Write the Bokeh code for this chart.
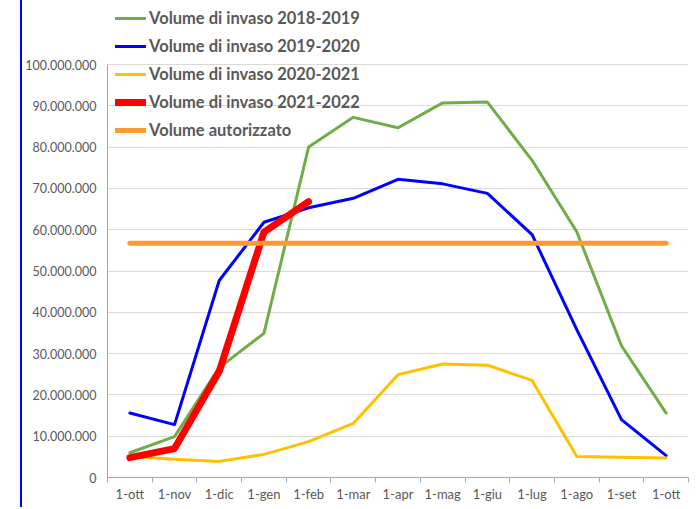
from bokeh.plotting import figure
from bokeh.models import (Legend, LegendItem, FixedTicker, CustomJSTickFormatter, Spacer)
from bokeh.layouts import row
from bokeh.embed import file_html
from bokeh.resources import INLINE

months = ["1-ott", "1-nov", "1-dic", "1-gen", "1-feb", "1-mar", "1-apr",
          "1-mag", "1-giu", "1-lug", "1-ago", "1-set", "1-ott"]

vol_2018_2019 = [6.0e6, 9.9e6, 26.6e6, 34.9e6, 80.0e6, 87.2e6, 84.7e6,
                 90.7e6, 90.9e6, 76.8e6, 59.5e6, 31.9e6, 15.6e6]
vol_2019_2020 = [15.6e6, 12.8e6, 47.7e6, 61.8e6, 65.3e6, 67.6e6, 72.2e6,
                 71.1e6, 68.8e6, 58.8e6, 35.8e6, 14.0e6, 5.3e6]
vol_2020_2021 = [5.1e6, 4.4e6, 3.9e6, 5.6e6, 8.7e6, 13.1e6, 24.9e6,
                 27.5e6, 27.2e6, 23.5e6, 5.1e6, 4.9e6, 4.7e6]
vol_2021_2022 = [4.8e6, 7.0e6, 25.7e6, 59.4e6, 66.8e6]
vol_autorizzato = [56.7e6, 56.7e6, 56.7e6, 56.7e6, 56.7e6, 56.7e6, 56.7e6,
                   56.7e6, 56.7e6, 56.7e6, 56.7e6, 56.7e6, 56.7e6]

y_ticks = [0, 10e6, 20e6, 30e6, 40e6, 50e6, 60e6, 70e6, 80e6, 90e6, 100e6]
y_max = 100e6

series = [
    ("Volume di invaso 2018-2019", vol_2018_2019, "#70AD47", 3),
    ("Volume di invaso 2019-2020", vol_2019_2020, "#0000FF", 3),
    ("Volume di invaso 2020-2021", vol_2020_2021, "#FFC000", 3),
    ("Volume di invaso 2021-2022", vol_2021_2022, "#FF0000", 7),
    ("Volume autorizzato", vol_autorizzato, "#FF9933", 5),
]

FONT = "Lato"
GRAY = "#595959"
AXIS = "#8FAADC"

# layout (pixels): frame spans canvas y 0..477, value axis top (y_max) sits at y=64
FRAME_BOTTOM = 477
AXIS_TOP = 64
y_end = y_max * FRAME_BOTTOM / (FRAME_BOTTOM - AXIS_TOP)

p = figure(width=672, height=507, output_backend="svg", toolbar_location=None,
           x_range=(-0.5, len(months) - 0.5), y_range=(0, y_end),
           min_border_left=82, min_border_right=6, min_border_top=0,
           min_border_bottom=30)
p.outline_line_color = None
p.background_fill_color = "white"
p.border_fill_color = "white"

items = []
for name, vals, color, w in series:
    xs = list(range(len(vals)))
    r = p.line(xs, vals, line_color=color, line_width=w,
               line_join="round", line_cap="round")
    items.append(LegendItem(label=name, renderers=[r]))

# x axis
p.xaxis.ticker = FixedTicker(ticks=list(range(len(months))),
                             minor_ticks=[i - 0.5 for i in range(len(months) + 1)])
p.xaxis.major_label_overrides = {i: m for i, m in enumerate(months)}
p.xaxis.major_tick_line_color = None
p.xaxis.major_tick_out = 0
p.xaxis.major_tick_in = 0
p.xaxis.minor_tick_line_color = AXIS
p.xaxis.minor_tick_out = 5
p.xaxis.minor_tick_in = 0
p.xaxis.axis_line_color = AXIS
p.xaxis.major_label_text_font = FONT
p.xaxis.major_label_text_font_size = "13px"
p.xaxis.major_label_text_color = GRAY
p.xaxis.major_label_standoff = 3
p.xgrid.grid_line_color = None

# y axis
p.yaxis.ticker = FixedTicker(ticks=y_ticks, minor_ticks=[])
p.yaxis.bounds = (0, y_max)
p.yaxis.formatter = CustomJSTickFormatter(
    code="return Math.round(tick).toString().replace(/\\B(?=(\\d{3})+(?!\\d))/g, '.');")
p.yaxis.major_tick_line_color = None
p.yaxis.major_tick_out = 0
p.yaxis.major_tick_in = 0
p.yaxis.minor_tick_line_color = None
p.yaxis.axis_line_color = AXIS
p.yaxis.major_label_text_font = FONT
p.yaxis.major_label_text_font_size = "12.5px"
p.yaxis.major_label_text_color = GRAY
p.yaxis.major_label_standoff = 11
p.ygrid.grid_line_color = "#D9D9D9"
p.ygrid.ticker = FixedTicker(ticks=y_ticks)

legend = Legend(items=items, location=(8, 337), orientation="vertical")
legend.border_line_color = None
legend.background_fill_alpha = 0
legend.padding = 0
legend.margin = 0
legend.glyph_width = 31
legend.glyph_height = 20
legend.label_height = 20
legend.spacing = 8
legend.label_standoff = 3
legend.label_text_font = FONT
legend.label_text_font_size = "16.5px"
legend.label_text_font_style = "bold"
legend.label_text_color = GRAY
p.add_layout(legend, "center")

left_pad = Spacer(width=20, height=507)
vline = Spacer(width=2, height=507, styles={"background-color": "#0000FF"})
layout = row(left_pad, vline, p)

open("out.html", "w").write(file_html(layout, INLINE))
